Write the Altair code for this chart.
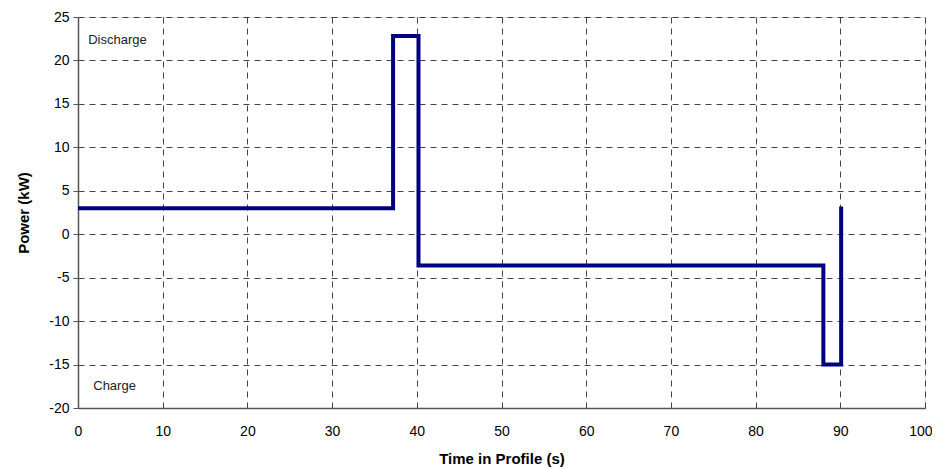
import altair as alt
import pandas as pd

time_s = [0, 37.2, 37.2, 40.2, 40.2, 88.0, 88.0, 90.1, 90.1]
power_kw = [3.0, 3.0, 22.8, 22.8, -3.6, -3.6, -15.0, -15.0, 3.2]

label_text = ["Discharge", "Charge"]
label_x = [1.2, 1.8]
label_y = [22.4, -17.5]

df = pd.DataFrame({"t": time_s, "p": power_kw, "o": list(range(len(time_s)))})
lab = pd.DataFrame({"text": label_text, "x": label_x, "y": label_y})

font = "Liberation Sans"

xscale = alt.Scale(domain=[0, 100], nice=False, zero=False)
yscale = alt.Scale(domain=[-20, 25], nice=False, zero=False)

line = alt.Chart(df).mark_line(color="#000080", strokeWidth=4, strokeCap="butt", strokeJoin="miter").encode(
    x=alt.X("t:Q", scale=xscale, title="Time in Profile (s)",
            axis=alt.Axis(values=list(range(0, 101, 10)), grid=True, gridDash=[6, 5], gridColor="#222",
                          gridOpacity=0.85, gridWidth=1, ticks=False, labelPadding=16, labelFontSize=14,
                          labelFont=font, labelColor="#000", titleFont=font, titleFontSize=15,
                          titleFontWeight="bold", titleColor="#000", titlePadding=13, domainColor="#555",
                          domainWidth=1.5, labelFlush=False, labelExpr="'' + datum.value",
                          labelAlign={"condition": {"test": "datum.value == 100", "value": "right"}, "value": "center"},
                          labelOffset={"condition": {"test": "datum.value == 100", "value": 7}, "value": 0})),
    y=alt.Y("p:Q", scale=yscale, title="Power (kW)",
            axis=alt.Axis(values=list(range(-20, 26, 5)), grid=True, gridDash=[6, 5], gridColor="#222",
                          gridOpacity=0.85, gridWidth=1, ticks=True, tickSize=5, tickColor="#555",
                          labelPadding=4, labelFontSize=14, labelFont=font, labelColor="#000",
                          titleFont=font, titleFontSize=15, titleFontWeight="bold", titleColor="#000",
                          titlePadding=17, domainColor="#555", domainWidth=1.5, labelFlush=False,
                          labelExpr="'' + datum.value")),
    order="o:Q",
)

text = alt.Chart(lab).mark_text(align="left", baseline="middle", fontSize=13, font=font, color="#222").encode(
    x=alt.X("x:Q", scale=xscale),
    y=alt.Y("y:Q", scale=yscale),
    text="text:N",
)

chart = (line + text).properties(
    width=847, height=391,
    autosize=alt.AutoSizeParams(type="none"),
    padding={"left": 70, "top": 9, "right": 7, "bottom": 60},
).configure_view(stroke="#444", strokeWidth=1.5).configure(background="white")

chart.save("out.html", embed_options={"renderer": "svg", "actions": False})
